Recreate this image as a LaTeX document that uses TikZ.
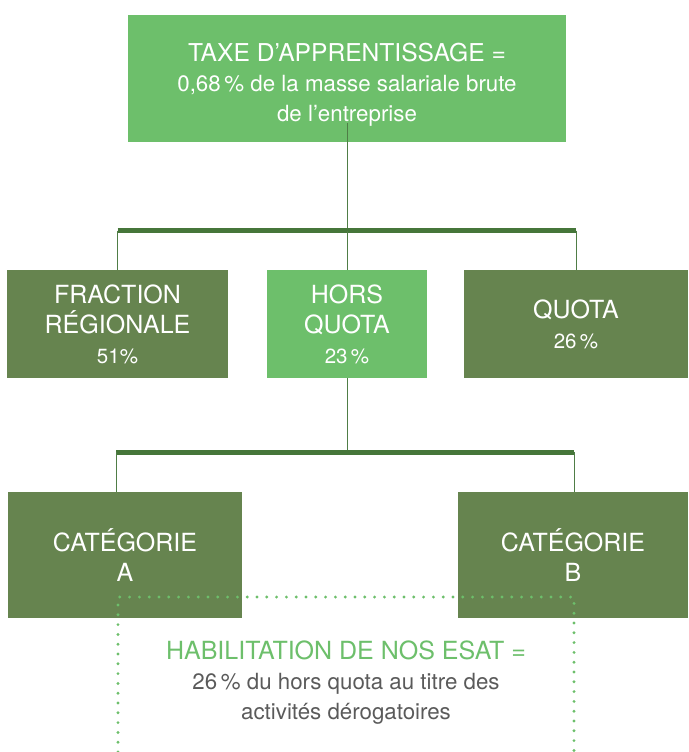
\documentclass[tikz,border=0pt]{standalone}
\usepackage{fontspec}
\setmainfont{TeX Gyre Heros}
\usetikzlibrary{positioning}
\definecolor{vertclair}{HTML}{6DBF6B}
\definecolor{vertfonce}{HTML}{66844F}
\definecolor{vertbarre}{HTML}{46763A}
\definecolor{vertligne}{HTML}{4F7D46}
\definecolor{gristexte}{HTML}{5A5A5A}
\tikzset{font=\fontsize{25}{30}\selectfont}
\tikzstyle{boite}=[rectangle,inner sep=0pt,text=white,align=center]
\tikzstyle{clair}=[boite,fill=vertclair]
\tikzstyle{fonce}=[boite,fill=vertfonce]
\tikzstyle{barre}=[line width=5pt,vertbarre]
\tikzstyle{lien}=[line width=1pt,vertligne]
\tikzstyle{pointille}=[vertclair,line width=3.2pt,line cap=round,dash pattern=on 0pt off 9.8pt]
\newcommand{\pct}[1]{{\fontsize{20.5}{30}\selectfont #1}}
\newcommand{\fin}[1]{{\fontsize{22.3}{29}\selectfont #1}}

\begin{document}
\begin{tikzpicture}[x=1pt,y=-1pt]
\useasboundingbox (0,0) rectangle (688,752);
\node[clair,minimum width=438pt,minimum height=127pt] (T) at (347,78.5)
  {\rule{0pt}{30pt}{\fontsize{24.6}{29}\selectfont TAXE D’APPRENTISSAGE =}\\ \fin{0,68\,\% de la masse salariale brute}\\ \fin{de l’entreprise}};
\coordinate (b1l) at (117.5,230.5);
\coordinate (b1c) at (347,230.5);
\coordinate (b1r) at (576,230.5);
\node[fonce,minimum width=221pt,minimum height=108pt] (F) at (117.5,324) {FRACTION\\RÉGIONALE\\\pct{51\%}};
\node[clair,minimum width=160pt,minimum height=108pt] (H) at (347,324) {HORS\\QUOTA\\\pct{23\,\%}};
\node[fonce,minimum width=224pt,minimum height=108pt] (Q) at (576,324) {QUOTA\\\pct{26\,\%}};
\coordinate (b2l) at (116,452);
\coordinate (b2c) at (347,452);
\coordinate (b2r) at (574,452);
\node[fonce,minimum width=234pt,minimum height=126pt] (A) at (125,555) {CATÉGORIE\\A};
\node[fonce,minimum width=230pt,minimum height=126pt] (B) at (573,555) {CATÉGORIE\\B};
\node[align=center,text=gristexte] (E) at (346,683)
  {\textcolor{vertclair}{HABILITATION DE NOS ESAT =}\\ \fin{26\,\% du hors quota au titre des}\\ \fin{activités dérogatoires}};
% liens
\draw[lien] (T.south) ++(0,-19) -- (b1c);
\draw[barre] (b1l) -- (b1r);
\draw[lien] (b1l) -- (F.north);
\draw[lien] (b1c) -- (H.north);
\draw[lien] (b1r) -- (Q.north);
\draw[lien] (H.south) -- (b2c);
\draw[barre] (b2l) -- (b2r);
\draw[lien] (b2l) -- (b2l |- A.north);
\draw[lien] (b2r) -- (b2r |- B.north);
% cadre pointille
\coordinate (d1) at (118,752);
\coordinate (d2) at (118,597);
\coordinate (d3) at (574,597);
\coordinate (d4) at (574,752);
\draw[pointille] (d1) -- (d2) -- (d3) -- (d4);
\end{tikzpicture}
\end{document}
